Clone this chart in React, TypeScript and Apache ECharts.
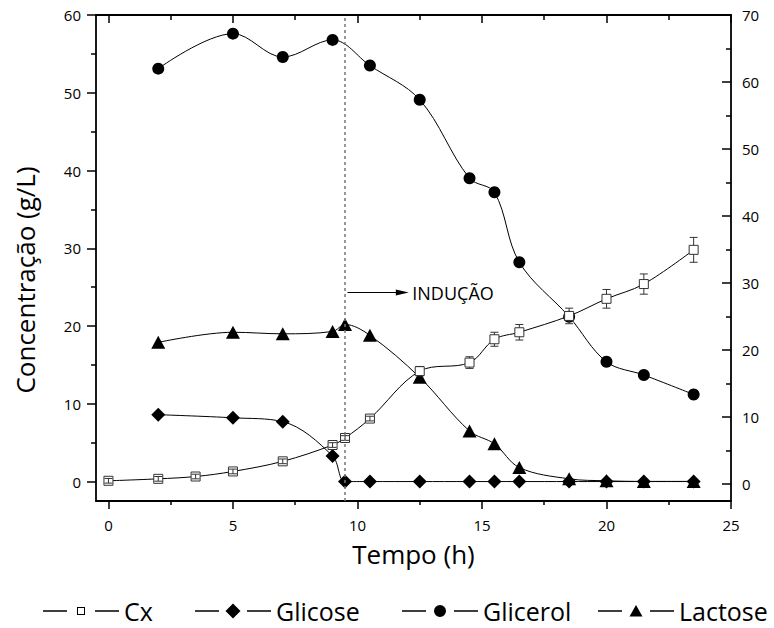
import React, { useEffect, useRef } from 'react';
import * as echarts from 'echarts';

// ---- data ----
const cxTime = [0, 2, 3.5, 5, 7, 9, 9.5, 10.5, 12.5, 14.5, 15.5, 16.5, 18.5, 20, 21.5, 23.5];
const cxValues = [0.1, 0.35, 0.65, 1.3, 2.6, 4.7, 5.6, 8.1, 14.2, 15.3, 18.3, 19.2, 21.3, 23.5, 25.4, 29.8];
const cxError = [0.3, 0.3, 0.3, 0.3, 0.3, 0.3, 0.3, 0.3, 0.6, 0.75, 0.9, 1.0, 1.0, 1.2, 1.3, 1.6];

const sugarTime = [2, 5, 7, 9, 9.5, 10.5, 12.5, 14.5, 15.5, 16.5, 18.5, 20, 21.5, 23.5];
const glicoseValues = [8.6, 8.2, 7.7, 3.3, 0, 0, 0, 0, 0, 0, 0, 0, 0, 0];
const lactoseValues = [17.9, 19.2, 19.0, 19.3, 20.2, 18.8, 13.4, 6.5, 4.85, 1.8, 0.35, 0.1, 0.02, 0.02];

const glicerolTime = [2, 5, 7, 9, 10.5, 12.5, 14.5, 15.5, 16.5, 18.5, 20, 21.5, 23.5];
const glicerolValues = [53.1, 57.6, 54.6, 56.8, 53.5, 49.1, 39.0, 37.2, 28.2, 21.2, 15.4, 13.7, 11.2];

const seriesNames = ['Cx', 'Glicose', 'Glicerol', 'Lactose'];

const xMajorTicks = [0, 5, 10, 15, 20, 25];
const xMinorTicks = [2.5, 7.5, 12.5, 17.5, 22.5];
const leftMajorTicks = [0, 10, 20, 30, 40, 50, 60];
const leftMinorTicks = [5, 15, 25, 35, 45, 55];
const rightMajorTicks = [0, 10, 20, 30, 40, 50, 60, 70];
const rightMinorTicks = [5, 15, 25, 35, 45, 55, 65];

const inductionTime = 9.5;
const inductionLabel = 'INDUÇÃO';
const arrowStart = [9.6, 24.3];
const arrowEnd = [11.8, 24.3];

const xTitle = 'Tempo (h)';
const yTitle = 'Concentração (g/L)';

const FONT = '"Open Sans", "Noto Sans", sans-serif';

const pair = (xs: number[], ys: number[]) => xs.map((x, i) => [x, ys[i]]);

const BOUNDS = 'M0 0 M76 16 ';
const LINES = 'M0 7.3H24V8.7H0Z M52 7.3H76V8.7H52Z ';
const legendIcons = [
  'path://' + BOUNDS + LINES + 'M34 4H42V12H34Z M35 5V11H41V5Z',
  'path://' + BOUNDS + LINES + 'M38 0.5L45.5 8L38 15.5L30.5 8Z',
  'path://' + BOUNDS + LINES + 'M32 8A6 6 0 1 1 44 8A6 6 0 1 1 32 8Z',
  'path://' + BOUNDS + LINES + 'M38 2L44.5 13.5L31.5 13.5Z',
];
const legendLeft = [43, 195, 402, 598];

export default function App() {
  const ref = useRef<HTMLDivElement>(null);

  useEffect(() => {
    document.body.style.margin = '0';
    if (!ref.current) return;
    const chart = echarts.init(ref.current, null, { renderer: 'svg' });

    const axisLineStyle = { color: '#000', width: 1.8 };
    const tickStyle = { color: '#000', width: 1.5 };
    const labelStyle = { color: '#000', fontSize: 15, fontFamily: FONT };

    const xBase = { type: 'value', min: -0.5, max: 25, splitLine: { show: false }, gridIndex: 0 };
    const yLeftBase = { type: 'value', min: -2.5, max: 60, splitLine: { show: false }, position: 'left' };
    const yRightBase = { type: 'value', min: -2.5, max: 70, splitLine: { show: false }, position: 'right' };

    const errData = cxTime.map((t, i) => [t, cxValues[i], cxError[i]]);

    const option: any = {
      animation: false,
      backgroundColor: '#fff',
      textStyle: { fontFamily: FONT },
      grid: { left: 96, right: 43, top: 15, bottom: 127, containLabel: false },
      legend: seriesNames.map((name, i) => ({
        left: legendLeft[i],
        top: 598,
        padding: 0,
        orient: 'horizontal',
        itemWidth: 76,
        itemHeight: 16,
        itemGap: 0,
        selectedMode: false,
        data: [{ name, icon: legendIcons[i] }],
        itemStyle: { color: '#000', borderWidth: 0 },
        textStyle: { fontSize: 25, color: '#000', fontFamily: FONT, lineHeight: 26 },
      })),
      xAxis: [
        {
          ...xBase,
          position: 'bottom',
          name: xTitle,
          nameLocation: 'middle',
          nameGap: 40,
          nameTextStyle: { fontSize: 26, color: '#000', fontFamily: FONT },
          axisLine: { show: true, onZero: false, lineStyle: axisLineStyle },
          axisTick: { show: true, inside: false, length: 8, lineStyle: tickStyle, customValues: xMajorTicks },
          axisLabel: { show: true, margin: 16, ...labelStyle, customValues: xMajorTicks },
        },
        {
          ...xBase,
          position: 'bottom',
          axisLine: { show: false, onZero: false },
          axisTick: { show: true, inside: false, length: 4, lineStyle: tickStyle, customValues: xMinorTicks },
          axisLabel: { show: false },
        },
        {
          ...xBase,
          position: 'top',
          axisLine: { show: true, onZero: false, lineStyle: axisLineStyle },
          axisTick: { show: true, inside: true, length: 8, lineStyle: tickStyle, customValues: xMajorTicks },
          axisLabel: { show: false },
        },
        {
          ...xBase,
          position: 'top',
          axisLine: { show: false, onZero: false },
          axisTick: { show: true, inside: true, length: 5, lineStyle: tickStyle, customValues: xMinorTicks },
          axisLabel: { show: false },
        },
      ],
      yAxis: [
        {
          ...yLeftBase,
          name: yTitle,
          nameLocation: 'middle',
          nameGap: 58,
          nameTextStyle: { fontSize: 26, color: '#000', fontFamily: FONT, padding: [0, 44, 0, 0] },
          axisLine: { show: true, onZero: false, lineStyle: axisLineStyle },
          axisTick: { show: true, inside: false, length: 9, lineStyle: tickStyle, customValues: leftMajorTicks },
          axisLabel: { show: true, margin: 15, ...labelStyle, customValues: leftMajorTicks },
        },
        {
          ...yLeftBase,
          axisLine: { show: false, onZero: false },
          axisTick: { show: true, inside: false, length: 5, lineStyle: tickStyle, customValues: leftMinorTicks },
          axisLabel: { show: false },
        },
        {
          ...yRightBase,
          axisLine: { show: true, onZero: false, lineStyle: axisLineStyle },
          axisTick: { show: true, inside: true, length: 9, lineStyle: tickStyle, customValues: rightMajorTicks },
          axisLabel: { show: true, margin: 11, ...labelStyle, customValues: rightMajorTicks },
        },
        {
          ...yRightBase,
          axisLine: { show: false, onZero: false },
          axisTick: { show: true, inside: true, length: 5, lineStyle: tickStyle, customValues: rightMinorTicks },
          axisLabel: { show: false },
        },
      ],
      series: [
        {
          name: 'Glicerol',
          type: 'line',
          xAxisIndex: 0,
          yAxisIndex: 0,
          data: pair(glicerolTime, glicerolValues),
          smooth: 0.35,
          symbol: 'circle',
          symbolSize: 12,
          lineStyle: { color: '#000', width: 1 },
          itemStyle: { color: '#000' },
          z: 2,
          markLine: {
            silent: true,
            symbol: ['none', 'none'],
            label: { show: false },
            lineStyle: { type: [3, 3], color: '#777', width: 1.5 },
            data: [{ xAxis: inductionTime }],
          },
        },
        {
          name: 'Lactose',
          type: 'line',
          xAxisIndex: 0,
          yAxisIndex: 0,
          data: pair(sugarTime, lactoseValues),
          smooth: 0.35,
          symbol: 'triangle',
          symbolSize: [14, 13],
          lineStyle: { color: '#000', width: 1 },
          itemStyle: { color: '#000' },
          z: 2,
          markLine: {
            silent: true,
            symbol: ['none', 'triangle'],
            symbolSize: [6, 13],
            lineStyle: { type: 'solid', color: '#000', width: 1 },
            label: {
              show: true,
              position: 'end',
              distance: 10,
              formatter: inductionLabel,
              color: '#000',
              fontSize: 18,
              fontFamily: FONT,
            },
            data: [[{ coord: arrowStart }, { coord: arrowEnd }]],
          },
        },
        {
          name: 'Glicose',
          type: 'line',
          xAxisIndex: 0,
          yAxisIndex: 0,
          data: pair(sugarTime, glicoseValues),
          smooth: 0.35,
          symbol: 'diamond',
          symbolSize: 14,
          lineStyle: { color: '#000', width: 1 },
          itemStyle: { color: '#000' },
          z: 2,
        },
        {
          name: 'Cx',
          type: 'line',
          xAxisIndex: 0,
          yAxisIndex: 0,
          data: pair(cxTime, cxValues),
          smooth: 0.35,
          symbol: 'rect',
          symbolSize: 9,
          lineStyle: { color: '#000', width: 1 },
          itemStyle: { color: '#fff', borderColor: '#333', borderWidth: 1 },
          z: 3,
        },
        {
          name: 'Cx error',
          type: 'custom',
          xAxisIndex: 0,
          yAxisIndex: 0,
          z: 4,
          silent: true,
          encode: { x: 0, y: 1 },
          data: errData,
          renderItem: (params: any, api: any) => {
            const x = api.value(0);
            const y = api.value(1);
            const e = api.value(2);
            const c = api.coord([x, y]);
            const hi = api.coord([x, y + e]);
            const lo = api.coord([x, y - e]);
            const half = 4.5;
            const cap = 4;
            const style = { stroke: '#333', lineWidth: 1 };
            const children: any[] = [];
            const up = c[1] - hi[1];
            if (up > half) {
              children.push({ type: 'line', shape: { x1: c[0], y1: hi[1], x2: c[0], y2: c[1] - half }, style });
              children.push({ type: 'line', shape: { x1: c[0], y1: lo[1], x2: c[0], y2: c[1] + half }, style });
            } else {
              children.push({ type: 'line', shape: { x1: c[0], y1: hi[1], x2: c[0], y2: lo[1] }, style });
            }
            children.push({ type: 'line', shape: { x1: c[0] - cap, y1: hi[1], x2: c[0] + cap, y2: hi[1] }, style });
            children.push({ type: 'line', shape: { x1: c[0] - cap, y1: lo[1], x2: c[0] + cap, y2: lo[1] }, style });
            return { type: 'group', children };
          },
        },
      ],
    };

    chart.setOption(option);
    return () => chart.dispose();
  }, []);

  return <div ref={ref} style={{ width: 774, height: 628 }} />;
}
